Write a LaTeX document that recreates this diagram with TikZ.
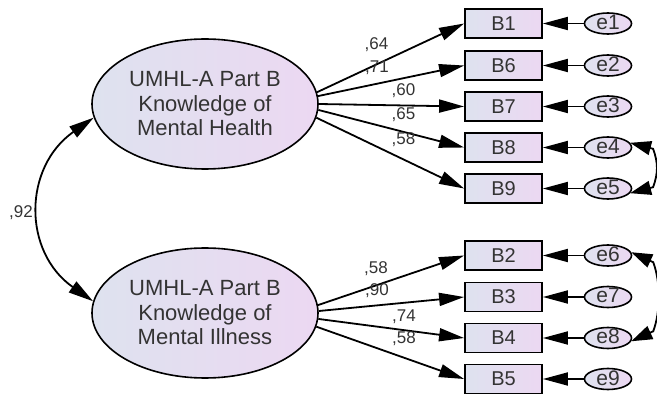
\documentclass[tikz,border=0pt]{standalone}
\usepackage{fontspec}
\setmainfont{Liberation Sans}
\usetikzlibrary{shapes.geometric,arrows.meta,positioning,calc}
\definecolor{semleft}{HTML}{DEE2EF}
\definecolor{semright}{HTML}{ECD8F2}
\definecolor{semtext}{HTML}{333333}

\begin{document}
\begin{tikzpicture}[
    x=1pt,
    y=1pt,
    latent/.style={
        ellipse,
        minimum width=226pt,
        minimum height=130pt,
        inner sep=0pt,
        align=center,
        font=\fontsize{22}{24.5}\selectfont,
        text=semtext,
        left color=semleft,
        right color=semright,
        draw=black,
        line width=1.6pt
    },
    item/.style={
        rectangle,
        minimum width=77pt,
        minimum height=29pt,
        inner sep=0pt,
        font=\fontsize{20}{24}\selectfont,
        text=semtext,
        left color=semleft,
        right color=semright,
        draw=black,
        line width=1.8pt
    },
    err/.style={
        ellipse,
        minimum width=47pt,
        minimum height=21pt,
        inner sep=0pt,
        text height=12pt,
        text depth=0pt,
        font=\fontsize{21}{24}\selectfont,
        text=semtext,
        left color=semleft,
        right color=semright,
        draw=black,
        line width=1.6pt
    },
    load/.style={
        -{Triangle[length=25pt,width=13pt]},
        line width=1.8pt
    },
    cov/.style={
        {Triangle[length=25pt,width=13pt]}-{Triangle[length=25pt,width=13pt]},
        line width=1.8pt
    },
    errcov/.style={
        {Triangle[length=21pt,width=14pt]}-{Triangle[length=21pt,width=14pt]},
        line width=1.8pt
    },
    coef/.style={
        font=\fontsize{17}{19}\selectfont,
        text=semtext,
        inner sep=0pt,
        anchor=base
    }
]
\useasboundingbox (0,0) rectangle (657,397);

% Latent factors
\node[latent] (health) at (205,293) {UMHL-A Part B\\Knowledge of\\Mental Health};
\node[latent] (illness) at (205,84) {UMHL-A Part B\\Knowledge of\\Mental Illness};

% Observed items
\foreach \name/\ypos in {B1/373.5, B6/331.5, B7/290.5, B8/249.5, B9/208.5, B2/141.5, B3/100, B4/59, B5/18} {
    \node[item] (\name) at (503.5,\ypos) {\name};
}

% Error terms
\foreach \name/\ypos in {e1/373.5, e2/331.5, e3/290.5, e4/249.5, e5/208.5, e6/141.5, e7/100, e8/59, e9/18} {
    \node[err] (\name) at (608,\ypos) {\name};
}

% Errors to items
\foreach \err/\obs in {e1/B1, e2/B6, e3/B7, e4/B8, e5/B9, e6/B2, e7/B3, e8/B4, e9/B5} {
    \draw[load] (\err) -- (\obs);
}

% Loadings
\foreach \ang/\obs in {6/B1, 4/B6, 0/B7, -3/B8, -7/B9} {
    \draw[load] (health.\ang) -- (\obs.west);
}
\foreach \ang/\obs in {4/B2, 1/B3, -3/B4, -7/B5} {
    \draw[load] (illness.\ang) -- (\obs.west);
}

% Loading values
\node[coef] (l1) at (376.5,347) {,64};
\node[coef] (l6) at (377,324) {,71};
\node[coef] (l7) at (403.5,301) {,60};
\node[coef] (l8) at (403.5,277) {,65};
\node[coef] (l9) at (403.5,252) {,58};

\node[coef] (l2) at (376,124) {,58};
\node[coef] (l3) at (377,102) {,90};
\node[coef] (l4) at (404,76) {,74};
\node[coef] (l5) at (404,54) {,58};

% Covariances
\draw[cov] (health.187) to[out=215, in=145, looseness=1.2] (illness.174);
\node[coef] (r92) at (21,179) {,92};

\draw[errcov] (e4.12) -- ++(23,-6) to[out=-70, in=70] ($(e5.-12)+(23,6)$) -- (e5.-12);
\draw[errcov] (e6.8) -- ++(22,-10) to[out=-70, in=70, looseness=0.8] ($(e8.-8)+(22,10)$) -- (e8.-8);

\end{tikzpicture}
\end{document}
